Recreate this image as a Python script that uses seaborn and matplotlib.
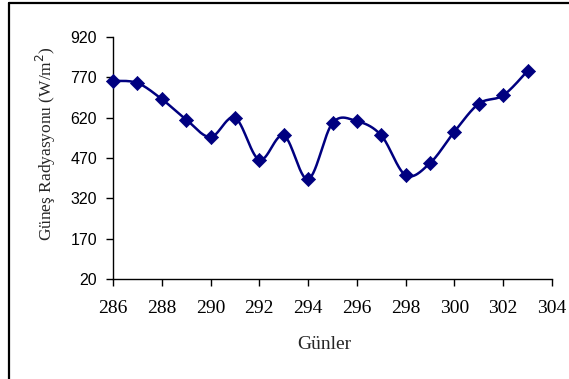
import numpy as np
import pandas as pd
import matplotlib
matplotlib.use("Agg")
import matplotlib.pyplot as plt
import seaborn as sns
from matplotlib.lines import Line2D

days = [286, 287, 288, 289, 290, 291, 292, 293, 294, 295, 296, 297, 298, 299, 300, 301, 302, 303]
radiation = [757, 749, 689, 613, 548, 620, 463, 554, 391, 600, 607, 554, 406, 451, 568, 672, 703, 794]
x_ticks = [286, 288, 290, 292, 294, 296, 298, 300, 302, 304]
y_ticks = [20, 170, 320, 470, 620, 770, 920]

COLOR = "#000080"

sns.set_theme(style="white")
plt.rcParams['font.family'] = ['Liberation Serif', 'DejaVu Serif']

def excel_smooth(xs, ys, n=30):
    P = np.column_stack([xs, ys]).astype(float)
    m = len(P)
    out = [P[0]]
    for i in range(m - 1):
        p0 = P[i - 1] if i > 0 else P[i]
        p1 = P[i]
        p2 = P[i + 1]
        p3 = P[i + 2] if i + 2 < m else P[i + 1]
        b1 = p1 + (p2 - p0) / 6.0
        b2 = p2 - (p3 - p1) / 6.0
        t = np.linspace(0, 1, n)[1:, None]
        seg = ((1 - t) ** 3) * p1 + 3 * ((1 - t) ** 2) * t * b1 + 3 * (1 - t) * t ** 2 * b2 + t ** 3 * p2
        out.extend(seg)
    out = np.array(out)
    return out[:, 0], out[:, 1]

sx, sy = excel_smooth(days, radiation)
df_line = pd.DataFrame({"x": sx, "y": sy})
df_pts = pd.DataFrame({"Günler": days, "Rad": radiation})

fig = plt.figure(figsize=(5.69, 3.79), dpi=100)
ax = fig.add_axes([113 / 569, 1 - 279 / 379, (552 - 113) / 569, (279 - 37) / 379])

sns.lineplot(data=df_line, x="x", y="y", sort=False, color=COLOR, linewidth=1.8, ax=ax, estimator=None)
sns.scatterplot(data=df_pts, x="Günler", y="Rad", marker="D", s=52, color=COLOR,
                edgecolor=COLOR, linewidth=0.5, ax=ax, zorder=3, clip_on=False)

ax.set_xlim(286, 304)
ax.set_ylim(20, 920)
ax.set_xticks(x_ticks)
ax.set_yticks(y_ticks)
ax.set_xticklabels([str(v) for v in x_ticks], fontfamily="Liberation Serif", fontsize=14)
ax.set_yticklabels([str(v) for v in y_ticks], fontfamily="Liberation Sans", fontsize=11.5)
ax.set_xlabel("Günler", fontsize=14, va="center")
ax.set_ylabel("Güneş Radyasyonu (W/m$^2$)", fontsize=12.5, va="center", ha="center")
ax.xaxis.set_label_coords(0.482, -0.27)
ax.yaxis.set_label_coords(-0.152, 0.558)

for s in ["top", "right"]:
    ax.spines[s].set_visible(False)
for s in ["left", "bottom"]:
    ax.spines[s].set_color("black")
    ax.spines[s].set_linewidth(1.0)
ax.tick_params(axis="both", direction="out", length=5, width=1, color="black", labelcolor="black",
               left=True, bottom=True)
ax.tick_params(axis="x", pad=10)
ax.tick_params(axis="y", pad=6.5)
ax.grid(False)

# outer chart frame
fig.add_artist(Line2D([9 / 569, 1.0], [1 - 3 / 379, 1 - 3 / 379], color="black", linewidth=1.6,
                      transform=fig.transFigure))
fig.add_artist(Line2D([9 / 569, 9 / 569], [0.0, 1 - 3 / 379], color="black", linewidth=1.6,
                      transform=fig.transFigure))

fig.savefig("out.png", dpi=100, facecolor="white")
